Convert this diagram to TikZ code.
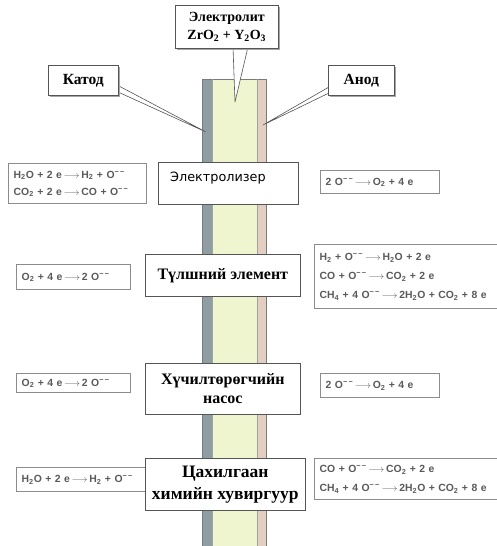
\documentclass[tikz,border=0pt]{standalone}
\usepackage{fontspec}
\setmainfont{Liberation Serif}
\newfontfamily\eqfont[WordSpace=1.3]{Liberation Sans}
\newfontfamily\labsans{DejaVu Sans}
\definecolor{cathc}{HTML}{8E9EA3}
\definecolor{electc}{HTML}{EEF5CF}
\definecolor{anodc}{HTML}{E3CFC2}
\definecolor{colbord}{HTML}{7A7A7A}
\definecolor{eqgray}{HTML}{8C8C8C}
\definecolor{eqtext}{HTML}{5A5A5A}
\definecolor{boxbord}{HTML}{555555}
\newcommand{\mm}{\textsuperscript{−\,−}}
\newcommand{\sub}[1]{\textsubscript{#1}}
\newcommand{\ar}{\,$\longrightarrow$\,}
\begin{document}
\begin{tikzpicture}[x=1pt,y=-1pt,
  eqbox/.style={draw=eqgray, line width=1.4pt, fill=white, anchor=north west, inner xsep=5pt, inner ysep=0pt,
     font=\eqfont\bfseries\fontsize{10.4}{11}\selectfont, text=eqtext, align=left},
  midbox/.style={draw=boxbord, line width=0.6pt, fill=white, anchor=north west, inner sep=0pt, align=center,
     font=\bfseries\fontsize{16}{19}\selectfont},
  callbox/.style={draw=boxbord, line width=0.6pt, fill=white, anchor=north west, inner sep=0pt, align=center,
     font=\bfseries\fontsize{15.5}{18}\selectfont},
  shadowed/.style={preaction={fill=black!35, draw=none, transform canvas={shift={(1.5pt,-1.5pt)}}}},
  pointer/.style={draw=boxbord, line width=0.6pt, fill=white, line join=round}
]
\useasboundingbox (0,0) rectangle (497,546);
\clip (0,0) rectangle (497,546);
% column
\fill[electc] (212,79) rectangle (257,546);
\fill[cathc] (202,79) rectangle (212,546);
\fill[anodc] (257,79) rectangle (266,546);
\draw[colbord, line width=0.6pt] (202,546) -- (202,79) -- (266,79) -- (266,546);
\draw[colbord!70, line width=0.4pt] (212,79) -- (212,546) (257,79) -- (257,546);
% pointer tips
\coordinate (tipE) at (235,102);
\coordinate (tipK) at (206,132);
\coordinate (tipA) at (263,125);
% pointers
\path[pointer] (233,47) -- (tipE) -- (248,47) -- cycle;
\path[pointer] (117,85) -- (tipK) -- (118,92) -- cycle;
\path[pointer] (329,87) -- (tipA) -- (329,93) -- cycle;
% callout boxes
\node[callbox, shadowed, minimum width=103pt, minimum height=43pt, font=\bfseries\fontsize{14}{18}\selectfont] (elyt) at (175,5) {Электролит\\ ZrO\sub{2} + Y\sub{2}O\sub{3}};
\node[callbox, shadowed, minimum width=70pt, minimum height=30pt] (kat) at (48,65) {Катод};
\node[callbox, shadowed, minimum width=66pt, minimum height=30pt] (an) at (328,65) {Анод};
% equation boxes
\node[eqbox, text width=128pt, minimum height=40pt] (e1l) at (8,163) {H\sub{2}O + 2 e\ar H\sub{2} + O\mm\\[6pt] CO\sub{2} + 2 e\ar CO + O\mm};
\node[eqbox, text width=109pt, minimum height=23pt] (e1r) at (320,170) {2 O\mm\ar O\sub{2} + 4 e};
\node[eqbox, text width=104pt, minimum height=25pt] (e2l) at (16,264) {O\sub{2} + 4 e\ar 2 O\mm};
\node[eqbox, text width=180pt, minimum height=64pt] (e2r) at (314,244) {H\sub{2} + O\mm\ar H\sub{2}O + 2 e\\[8pt] CO + O\mm\ar CO\sub{2} + 2 e\\[8pt] CH\sub{4} + 4 O\mm\ar 2H\sub{2}O + CO\sub{2} + 8 e};
\node[eqbox, text width=104pt, minimum height=19pt] (e3l) at (16,373) {O\sub{2} + 4 e\ar 2 O\mm};
\node[eqbox, text width=109pt, minimum height=24pt] (e3r) at (320,373) {2 O\mm\ar O\sub{2} + 4 e};
\node[eqbox, text width=122pt, minimum height=24pt] (e4l) at (16,467) {H\sub{2}O + 2 e\ar H\sub{2} + O\mm};
\node[eqbox, text width=180pt, minimum height=41pt] (e4r) at (314,458) {CO + O\mm\ar CO\sub{2} + 2 e\\[8pt] CH\sub{4} + 4 O\mm\ar 2H\sub{2}O + CO\sub{2} + 8 e};
% middle boxes
\node[midbox, minimum width=140pt, minimum height=42pt] (m1) at (158,162) {};
\node[anchor=west, inner sep=0pt, font=\labsans\fontsize{12.8}{15}\selectfont] (m1t) at (170,178) {Электролизер};
\node[midbox, minimum width=155pt, minimum height=42pt] (m2) at (145,254) {Түлшний элемент};
\node[midbox, minimum width=155pt, minimum height=51pt] (m3) at (145,363) {Хүчилтөрөгчийн\\ насос};
\node[midbox, minimum width=160pt, minimum height=52pt, font=\bfseries\fontsize{17.5}{22}\selectfont] (m4) at (145,458) {Цахилгаан\\ химийн хувиргуур};
\end{tikzpicture}
\end{document}
